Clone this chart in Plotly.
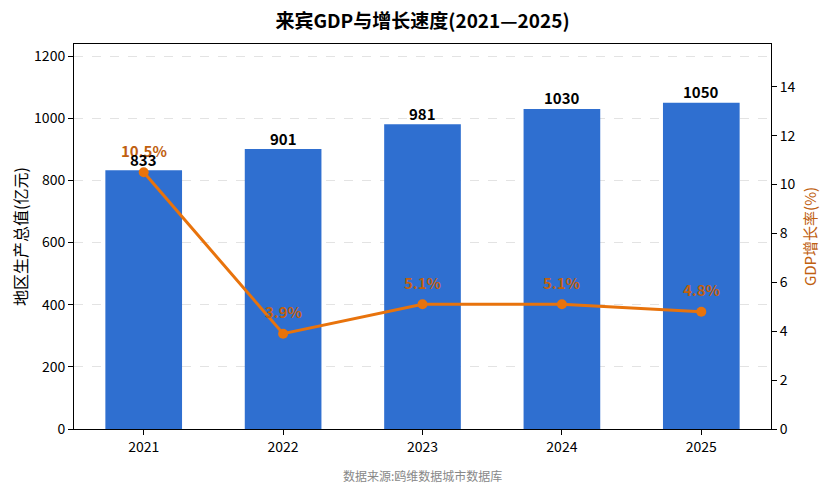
import plotly.graph_objects as go

years = ["2021", "2022", "2023", "2024", "2025"]
gdp = [833, 901, 981, 1030, 1050]
growth = [10.5, 3.9, 5.1, 5.1, 4.8]
gdp_labels = [str(v) for v in gdp]
growth_labels = [f"{v}%" for v in growth]

FONT = "Noto Sans CJK SC"
BAR = "#2f6fd0"
LINE = "#e8730c"
LBL = "#c0600f"

fig = go.Figure()
fig.add_trace(go.Bar(
    x=years, y=gdp, width=0.55, marker=dict(color=BAR, line=dict(width=0)),
    name="GDP", yaxis="y",
))
fig.add_trace(go.Scatter(
    x=years, y=growth, mode="lines+markers",
    line=dict(color=LINE, width=3), marker=dict(color=LINE, size=10),
    name="增长率", yaxis="y2", cliponaxis=False,
))

annotations = []
for i, (g, lab) in enumerate(zip(growth, growth_labels)):
    annotations.append(dict(
        x=i, y=g, xref="x", yref="y2", text=f"<b>{lab}</b>", showarrow=False,
        yshift=22, font=dict(family=FONT, size=15, color=LBL),
    ))
for i, (v, lab) in enumerate(zip(gdp, gdp_labels)):
    annotations.append(dict(
        x=i, y=v, xref="x", yref="y", text=f"<b>{lab}</b>", showarrow=False,
        yshift=11, font=dict(family=FONT, size=15, color="black"),
    ))
annotations.append(dict(
    text="数据来源:鸥维数据城市数据库", xref="paper", yref="paper",
    x=0.5, y=-0.122, yanchor="middle", xanchor="center", showarrow=False,
    font=dict(family=FONT, size=12, color="#888888")))

fig.update_layout(
    width=829, height=494,
    margin=dict(l=66, r=66, t=36, b=73),
    plot_bgcolor="white", paper_bgcolor="white",
    showlegend=False,
    font=dict(family=FONT, size=14, color="black"),
    title=dict(text="<b>来宾GDP与增长速度(2021—2025)</b>", x=0.5, xanchor="center",
               xref="paper", yref="container", y=0.972, yanchor="middle",
               font=dict(family=FONT, size=19, color="black")),
    xaxis=dict(type="category", range=[-0.5, 4.5], showline=True, linecolor="black",
               linewidth=1, mirror=True, ticks="outside", ticklen=5, tickcolor="black",
               showgrid=False, tickfont=dict(size=14), automargin=False),
    yaxis=dict(range=[0, 1239], tickvals=[0, 200, 400, 600, 800, 1000, 1200],
               showline=True, linecolor="black", linewidth=1, ticks="outside",
               ticklen=5, tickcolor="black", showgrid=True, gridcolor="#e3e3e3",
               griddash="dash", gridwidth=1, zeroline=False, automargin=False,
               title=dict(text="地区生产总值(亿元)", font=dict(size=16, color="black"), standoff=10),
               tickfont=dict(size=14)),
    yaxis2=dict(range=[0, 15.75], tickvals=[0, 2, 4, 6, 8, 10, 12, 14], overlaying="y",
                side="right", showline=True, linecolor="black", linewidth=1,
                ticks="outside", ticklen=5, tickcolor="black", showgrid=False,
                zeroline=False, automargin=False,
                title=dict(text="GDP增长率(%)", font=dict(size=15, color=LBL), standoff=10),
                tickfont=dict(size=14)),
    annotations=annotations,
)

fig.write_html("out.html")
